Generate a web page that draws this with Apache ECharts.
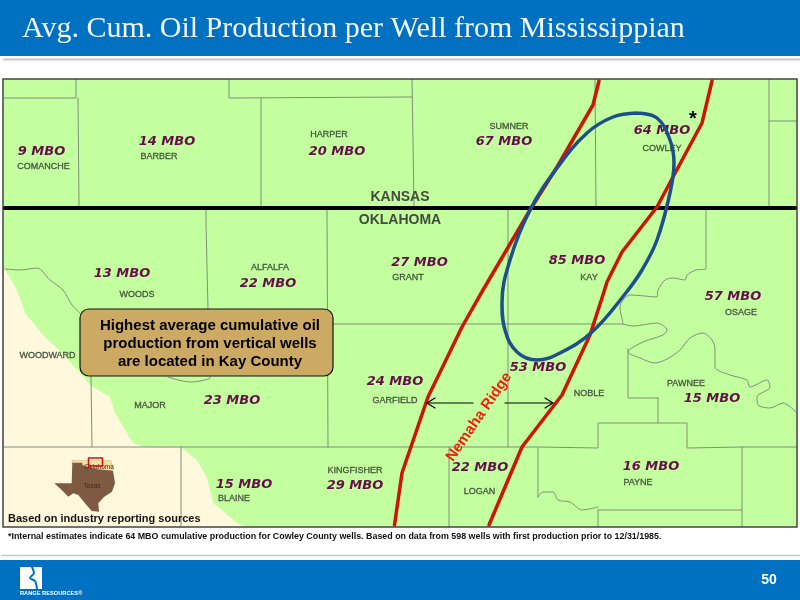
<!DOCTYPE html>
<html>
<head>
<meta charset="utf-8">
<style>html,body{margin:0;padding:0;background:#fff}#chart{width:800px;height:600px}</style>
<script src="https://cdn.jsdelivr.net/npm/echarts@6/dist/echarts.min.js"></script>
</head>
<body>
<div id="chart"></div>
<script>
var titleText = 'Avg. Cum. Oil Production per Well from Mississippian';
var footnote = '*Internal estimates indicate 64 MBO cumulative production for Cowley County wells. Based on data from 598 wells with first production prior to 12/31/1985.';
var sourceNote = 'Based on industry reporting sources';
var pageNo = '50';
var calloutLines = ['Highest average cumulative oil', 'production from vertical wells', 'are located in Kay County'];

// map readings, in page pixels of the reference
var mbo = [
	['9 MBO', 41.5, 152], ['14 MBO', 167, 142], ['20 MBO', 337, 152], ['67 MBO', 504, 142], ['64 MBO', 662, 131],
	['13 MBO', 122, 274], ['22 MBO', 268, 284], ['27 MBO', 419.5, 263], ['85 MBO', 577, 261], ['57 MBO', 733, 297],
	['53 MBO', 538, 368], ['24 MBO', 395, 382], ['23 MBO', 232, 401], ['15 MBO', 712, 399], ['15 MBO', 244, 485],
	['29 MBO', 355, 486], ['22 MBO', 480, 468], ['16 MBO', 651, 467]
];
var counties = [
	['COMANCHE', 43.5, 167], ['BARBER', 159, 157], ['HARPER', 329, 135], ['SUMNER', 509, 127], ['COWLEY', 662, 149],
	['WOODS', 137, 295], ['ALFALFA', 270, 268], ['GRANT', 408, 278], ['KAY', 589, 278], ['OSAGE', 741, 313],
	['WOODWARD', 47.5, 356], ['MAJOR', 150, 406], ['GARFIELD', 395, 401], ['NOBLE', 589, 394], ['PAWNEE', 686, 384],
	['BLAINE', 234, 499], ['KINGFISHER', 355, 471], ['LOGAN', 479.5, 492], ['PAYNE', 638, 483]
];
var states = [['KANSAS', 400, 197], ['OKLAHOMA', 400, 220]];

var headerBand = [[0, 0], [800, 0], [800, 56], [0, 56]];
var footerBand = [[0, 560], [800, 560], [800, 600], [0, 600]];
var mapArea = [[3, 79], [797, 79], [797, 527], [3, 527]];
var creamArea = [[4, 268], [17, 290], [25, 313], [43, 335], [62, 353], [80, 373], [90, 385], [110, 397], [115, 413], [125, 430], [133, 443], [143, 447],
	[182, 448], [197, 460], [207, 478], [213, 503], [240, 525], [250, 527], [4, 527]];

var countyLines = [
	[[76, 79], [76, 98], [4, 98]], [[78, 98], [79, 206]], [[229, 79], [229, 98], [412, 97]], [[261, 98], [261, 206]],
	[[412, 79], [414, 206]], [[595, 79], [596, 206]], [[769, 79], [769, 206]], [[769, 121], [797, 121]],
	[[206, 210], [206, 224], [208, 309]], [[327, 210], [328, 447]], [[328, 324], [623, 324]], [[508, 210], [508, 447]],
	[[4, 447], [538, 447], [538, 448], [598, 448], [598, 423], [687, 423], [687, 448], [742, 447], [797, 447]],
	[[449, 447], [449, 527]], [[538, 448], [538, 497]], [[742, 447], [742, 527]], [[598, 510], [742, 510]], [[598, 510], [598, 527]],
	[[658, 398], [658, 423]], [[628, 349], [628, 398], [658, 398]], [[91, 376], [92, 447]], [[181, 447], [181, 527]]
];
var rivers = [
	[[5, 269], [20, 270], [37, 268], [50, 280], [63, 290], [72, 305], [80, 313]],
	[[168, 377], [190, 382], [210, 378], [210, 376]],
	[[706, 210], [706, 269], [696, 270], [687, 275], [685, 280], [673, 278], [665, 280], [658, 290], [657, 297], [630, 295], [620, 307], [623, 323]],
	[[623, 324], [633, 326], [657, 323], [667, 330], [663, 335], [643, 342], [628, 352], [640, 358], [655, 363], [667, 359], [680, 350], [690, 338], [703, 333], [712, 340], [715, 350], [715, 367], [730, 375], [747, 380], [750, 387], [767, 380], [770, 387], [757, 397], [758, 405], [770, 408], [783, 403], [797, 413]],
	[[538, 497], [543, 492], [553, 492], [558, 500], [570, 502], [582, 510], [598, 507]]
];
var stateLine = [[5, 208], [795, 208]];
var faultWest = [[599, 81], [593, 105], [557, 167], [530, 210], [483, 290], [462, 327], [428, 397], [402, 473], [394.5, 525]];
var faultEast = [[712, 81], [702, 123], [673, 177], [657, 207], [622, 252], [607, 282], [602, 298], [590, 335], [562, 395], [522, 447], [489, 525]];
var kayOval = [[637, 113], [657, 118], [670, 140], [674, 163], [670, 193], [657, 240], [642, 270], [625, 294], [592, 332], [560, 353], [537, 360], [517, 352], [505, 330], [502, 303], [510, 260], [530, 210], [557, 168], [587, 133], [613, 117], [637, 113]];
var arrowWest = [[473, 403], [427, 403]];
var arrowWestHead = [[435, 398], [427, 403], [435, 408]];
var arrowEast = [[505, 403], [553, 403]];
var arrowEastHead = [[545, 398], [553, 403], [545, 408]];

var texas = [[72.3, 462.7], [82.3, 462.7], [82.3, 465], [95, 469], [113, 470.7], [115, 483], [112, 491.7], [104, 497], [98.3, 503.3], [99, 511.7], [91.7, 511], [85, 503.3], [78.3, 495], [73.3, 493.3], [68.3, 496.7], [61.7, 490], [54.3, 483.3], [71.7, 483.3]];
var oklahoma = [[72, 460.5], [111, 460.5], [113, 471], [95, 469], [82, 465], [72, 463]];
var insetBox = [[88.5, 458], [102.5, 458], [102.5, 466], [88.5, 466], [88.5, 458]];
var logoBlock = [[20, 567], [42, 567], [42, 589], [20, 589]];
var logoCut = [[32, 567], [34, 573], [30, 578], [35, 581], [37, 589]];

var seriesList = [];

function poly(points, fill, stroke, lw, z) {
	seriesList.push({
		type: 'custom', coordinateSystem: 'cartesian2d', silent: true, z: z, data: [0],
		renderItem: function (params, api) {
			return {
				type: 'polygon',
				shape: { points: points.map(function (p) { return api.coord(p); }) },
				style: { fill: fill, stroke: stroke || null, lineWidth: lw || 0 }
			};
		}
	});
}

function path(points, color, width, z, smooth) {
	seriesList.push({
		type: 'line', data: points, showSymbol: false, silent: true, z: z, smooth: smooth || false,
		lineStyle: { color: color, width: width, cap: 'round', join: 'round' }
	});
}

// items: [text, x, y]
function labels(items, style, z, rotation) {
	seriesList.push({
		type: 'custom', coordinateSystem: 'cartesian2d', silent: true, z: z, data: items.map(function (d, i) { return i; }),
		renderItem: function (params, api) {
			var d = items[params.dataIndex];
			var c = api.coord([d[1], d[2]]);
			return {
				type: 'text', x: c[0], y: c[1], rotation: rotation || 0,
				style: {
					text: d[0], fill: style.fill, font: style.font,
					stroke: style.stroke || null, lineWidth: style.stroke ? 0.3 : 0,
					align: style.align || 'center', verticalAlign: 'middle'
				}
			};
		}
	});
}

poly(headerBand, '#0070c0', null, 0, 1);
poly(footerBand, '#0070c0', null, 0, 1);
path([[4, 59.5], [800, 59.5]], '#c8c8c8', 2, 1);
path([[2, 555.5], [800, 555.5]], '#c8c8c8', 1.5, 1);
poly(mapArea, '#c4ff9f', null, 0, 2);
poly(creamArea, '#fff8dc', null, 0, 3);
countyLines.forEach(function (l) { path(l, '#7f8f7a', 1, 4); });
rivers.forEach(function (l) { path(l, '#7f8f7a', 1, 4, 0.3); });
path(stateLine, '#000000', 4, 5);
poly(mapArea, 'rgba(0,0,0,0)', '#444444', 1.5, 5);

poly(oklahoma, '#f6dfa0', '#c9b98a', 0.5, 6);
poly(texas, '#7f5a42', null, 0, 6);
path(insetBox, '#d01010', 1.5, 7);
labels([['Oklahoma', 99, 467], ['Texas', 92, 486]], { fill: '#3a2a20', font: '6.5px "Liberation Sans"' }, 7);

labels(states, { fill: '#444a40', font: 'bold 14px "Liberation Sans"' }, 8);
labels(counties, { fill: '#46563f', stroke: '#46563f', font: '9px "Liberation Sans"' }, 8);
labels(mbo, { fill: '#650f4a', font: 'italic bold 13px "DejaVu Sans"' }, 8);

path(faultWest, '#cc1505', 3.5, 9);
path(faultEast, '#cc1505', 3.5, 9);
path(kayOval, '#1f4e8c', 3.5, 10, 0.4);
labels([['*', 693, 119]], { fill: '#000000', font: 'bold 20px "Liberation Sans"' }, 10);

[arrowWest, arrowWestHead, arrowEast, arrowEastHead].forEach(function (a) { path(a, '#000000', 1.2, 11); });
labels([['Nemaha Ridge', 479, 417]], { fill: '#f0200f', font: 'bold 15px "Liberation Sans"' }, 11, 55.5 * Math.PI / 180);

// callout
seriesList.push({
	type: 'custom', coordinateSystem: 'cartesian2d', silent: true, z: 12, data: [0],
	renderItem: function (params, api) {
		var a = api.coord([80, 309]), b = api.coord([333, 376]);
		return {
			type: 'rect',
			shape: { x: a[0], y: a[1], width: b[0] - a[0], height: b[1] - a[1], r: 9 },
			style: { fill: '#cdaa64', stroke: '#111111', lineWidth: 1.2 }
		};
	}
});
labels([[calloutLines[0], 210, 326], [calloutLines[1], 210, 344], [calloutLines[2], 210, 362]],
	{ fill: '#000000', font: 'bold 15px "Liberation Sans"' }, 13);

labels([[sourceNote, 8, 519]], { fill: '#111111', font: 'bold 11px "Liberation Sans"', align: 'left' }, 13);
labels([[footnote, 8, 537]], { fill: '#111111', font: 'bold 8.9px "Liberation Sans"', align: 'left' }, 13);
labels([[titleText, 22, 29]], { fill: '#f2f7fb', font: '30px "Liberation Serif"', align: 'left' }, 13);
labels([[pageNo, 769, 580]], { fill: '#ffffff', font: 'bold 14px "Liberation Sans"' }, 13);

poly(logoBlock, '#ffffff', null, 0, 13);
path(logoCut, '#0070c0', 2, 14, 0.3);
labels([['RANGE RESOURCES®', 20, 593]], { fill: '#ffffff', font: 'bold 5.7px "Liberation Sans"', align: 'left' }, 13);

var chart = echarts.init(document.getElementById('chart'), null, { renderer: 'canvas' });
chart.setOption({
	animation: false,
	backgroundColor: '#ffffff',
	grid: { left: 0, right: 0, top: 0, bottom: 0 },
	xAxis: { type: 'value', min: 0, max: 800, show: false },
	yAxis: { type: 'value', min: 0, max: 600, inverse: true, show: false },
	series: seriesList
});
</script>
</body>
</html>
